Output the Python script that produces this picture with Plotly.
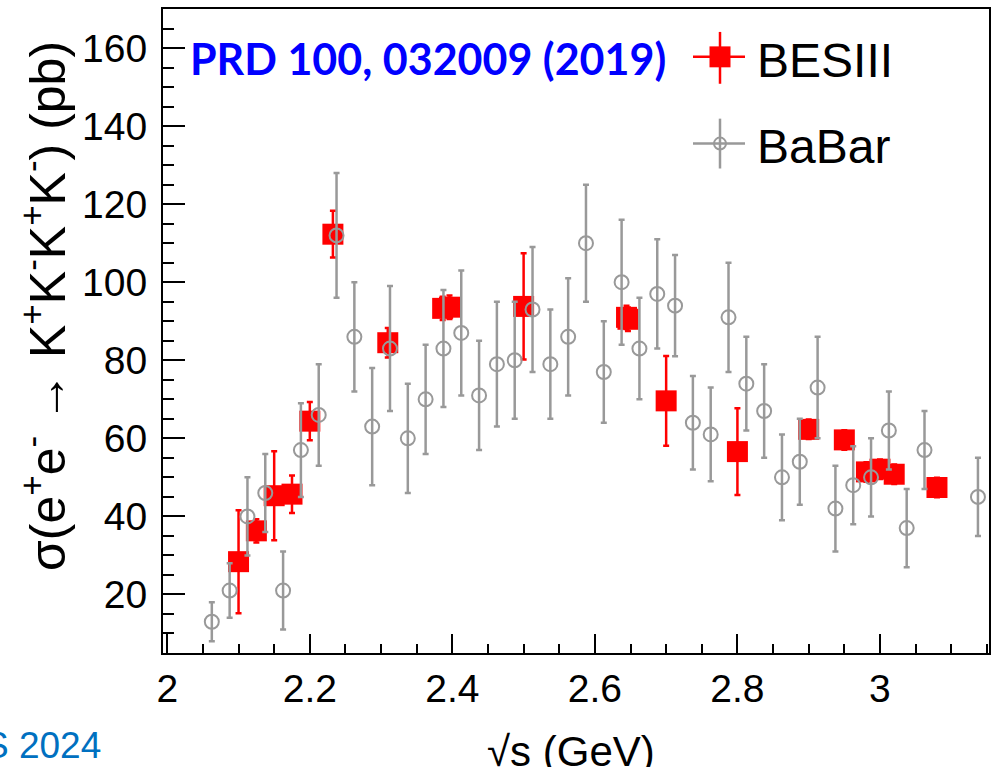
import plotly.graph_objects as go

# ---------------- data ----------------
bes_x = [2.1000, 2.1250, 2.1500, 2.1750, 2.2000, 2.2324, 2.3094, 2.3864, 2.3960, 2.5000,
         2.6444, 2.6464, 2.7000, 2.8000, 2.9000, 2.9500, 2.9810, 3.0000, 3.0200, 3.0800]
bes_y = [28.4, 36.3, 45.3, 45.7, 64.4, 112.3, 84.5, 93.3, 93.6, 93.8,
         91.0, 90.5, 69.6, 56.6, 62.3, 59.6, 51.4, 52.1, 50.8, 47.4]
bes_err = [13.2, 3.0, 11.4, 4.8, 4.9, 6.0, 3.8, 3.0, 3.0, 13.6,
           3.0, 3.0, 11.5, 11.1, 2.5, 2.5, 2.5, 2.5, 2.5, 2.5]

babar_x = [2.0625, 2.0875, 2.1125, 2.1375, 2.1625, 2.1875, 2.2125, 2.2375, 2.2625, 2.2875,
           2.3125, 2.3375, 2.3625, 2.3875, 2.4125, 2.4375, 2.4625, 2.4875, 2.5125, 2.5375,
           2.5625, 2.5875, 2.6125, 2.6375, 2.6625, 2.6875, 2.7125, 2.7375, 2.7625, 2.7875,
           2.8125, 2.8375, 2.8625, 2.8875, 2.9125, 2.9375, 2.9625, 2.9875, 3.0125, 3.0375,
           3.0625, 3.1375]
babar_y = [13, 21, 40, 46, 21, 57, 66, 112, 86, 63,
           83, 60, 70, 83, 87, 71, 79, 80, 93, 79,
           86, 110, 77, 100, 83, 97, 94, 64, 61, 91,
           74, 67, 50, 54, 73, 42, 48, 50, 62, 37,
           57, 45]
babar_err = [5, 7, 10, 10, 10, 12, 13, 16, 14, 15,
             16, 14, 14, 15, 16, 14, 16, 15, 16, 14,
             15, 15, 13, 16, 13, 14, 13, 12, 12, 14,
             12, 12, 11, 11, 13, 11, 10, 10, 10, 10,
             10, 10]

x_range = [1.994, 3.153]
y_range = [5, 170]
y_title = "σ(e<sup>+</sup>e<sup>-</sup> → K<sup>+</sup>K<sup>-</sup>K<sup>+</sup>K<sup>-</sup>) (pb)"
x_title = "√s (GeV)"
ref_text = "<b>PRD 100, 032009 (2019)</b>"
footer_text = "S 2024"
legend_names = ["BESIII", "BaBar"]

# ---------------- layout geometry ----------------
W, H = 999, 767
L, R, T, B = 163, 989, 7, 653
PW, PH = R - L, B - T

def px(xp):
    return (xp - L) / PW

def py(yp):
    return (B - yp) / PH

RED = "#ff0000"
GRAY = "#999999"
FONT = "Liberation Sans, Arial, sans-serif"

fig = go.Figure()

fig.add_trace(go.Scatter(
    x=bes_x, y=bes_y, mode="markers", name=legend_names[0],
    marker=dict(symbol="square", size=21, color=RED, line=dict(width=0)),
    error_y=dict(type="data", array=bes_err, visible=True, color=RED, thickness=2.5, width=3),
    showlegend=False,
))
fig.add_trace(go.Scatter(
    x=babar_x, y=babar_y, mode="markers", name=legend_names[1],
    marker=dict(symbol="circle-open", size=14, color=GRAY, line=dict(width=2, color=GRAY)),
    error_y=dict(type="data", array=babar_err, visible=True, color=GRAY, thickness=2.5, width=3),
    showlegend=False,
))

shapes = []
annotations = []

# legend glyphs (drawn manually, ROOT style)
def cross(cx, cy, color, h0, h1, v0, v1, w):
    shapes.append(dict(type="line", xref="paper", yref="paper", x0=px(h0), x1=px(h1),
                       y0=py(cy), y1=py(cy), line=dict(color=color, width=w)))
    shapes.append(dict(type="line", xref="paper", yref="paper", x0=px(cx), x1=px(cx),
                       y0=py(v0), y1=py(v1), line=dict(color=color, width=w)))

cross(720, 55, RED, 693, 745, 30, 82, 2.5)
shapes.append(dict(type="rect", xref="paper", yref="paper", x0=px(709.5), x1=px(730.5),
                   y0=py(65.5), y1=py(44.5), fillcolor=RED, line=dict(width=0)))
cross(720, 142, GRAY, 693, 745, 117, 167, 2.5)
shapes.append(dict(type="circle", xref="paper", yref="paper", x0=px(714), x1=px(726),
                   y0=py(148), y1=py(136), fillcolor="rgba(0,0,0,0)", line=dict(color=GRAY, width=2)))

annotations.append(dict(text=legend_names[0], xref="paper", yref="paper", x=px(755), y=py(59),
                        xanchor="left", yanchor="middle", showarrow=False,
                        font=dict(family=FONT, size=48, color="black")))
annotations.append(dict(text=legend_names[1], xref="paper", yref="paper", x=px(755), y=py(145),
                        xanchor="left", yanchor="middle", showarrow=False,
                        font=dict(family=FONT, size=48, color="black")))
annotations.append(dict(text=ref_text, xref="paper", yref="paper", x=px(428), y=py(57),
                        xanchor="center", yanchor="middle", showarrow=False,
                        font=dict(family="Lato, Open Sans, sans-serif", size=43, color="#0000ff")))
annotations.append(dict(text=y_title, xref="paper", yref="paper", x=px(44), y=py(305),
                        xanchor="center", yanchor="middle", textangle=-90, showarrow=False,
                        font=dict(family=FONT, size=50, color="black")))
annotations.append(dict(text=x_title, xref="paper", yref="paper", x=px(571), y=py(752),
                        xanchor="center", yanchor="middle", showarrow=False,
                        font=dict(family=FONT, size=42, color="black")))
annotations.append(dict(text=footer_text, xref="paper", yref="paper", x=px(103), y=py(746),
                        xanchor="right", yanchor="middle", showarrow=False,
                        font=dict(family=FONT, size=37, color="#0070c0")))

fig.update_layout(
    width=W, height=H,
    margin=dict(l=L, r=W - R, t=T, b=H - B, pad=0),
    paper_bgcolor="white", plot_bgcolor="white",
    shapes=shapes, annotations=annotations,
    showlegend=False,
    font=dict(family=FONT, color="black"),
)
fig.update_xaxes(
    range=x_range, tick0=2, dtick=0.2, ticks="inside", ticklen=19, tickwidth=2,
    tickcolor="black", showline=True, linecolor="black", linewidth=2, mirror=True,
    showgrid=False, zeroline=False,
    tickfont=dict(family=FONT, size=39, color="black"),
    minor=dict(dtick=0.05, tick0=2, ticks="inside", ticklen=9, tickwidth=2, tickcolor="black", showgrid=False),
)
fig.update_yaxes(
    range=y_range, tick0=0, dtick=20, ticks="inside", ticklen=22, tickwidth=2,
    tickcolor="black", showline=True, linecolor="black", linewidth=2, mirror=True,
    showgrid=False, zeroline=False, ticklabelstandoff=6,
    tickfont=dict(family=FONT, size=39, color="black"),
    minor=dict(dtick=5, tick0=0, ticks="inside", ticklen=11, tickwidth=2, tickcolor="black", showgrid=False),
)

fig.write_html("out.html")
